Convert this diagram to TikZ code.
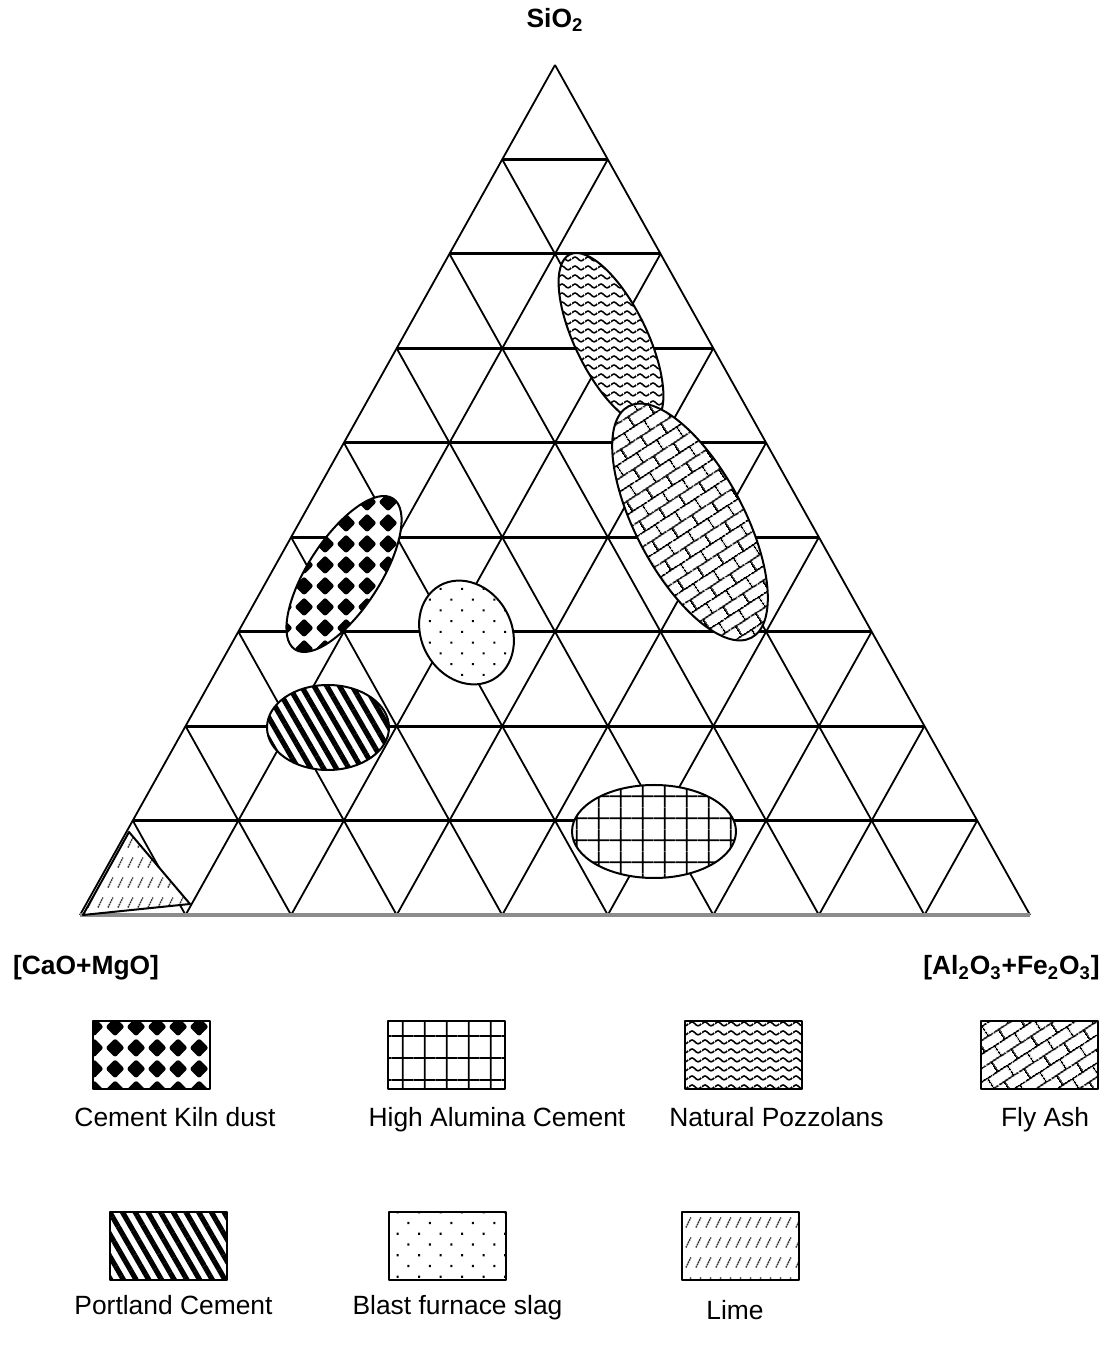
\documentclass[tikz,border=0pt]{standalone}
\usepackage{fontspec}
\setmainfont{Liberation Sans}
\usetikzlibrary{patterns, patterns.meta, positioning}

\tikzdeclarepattern{
  name=kilndiamonds,
  type=uncolored,
  bottom left={(0pt,0pt)},
  top right={(10.5pt,10.5pt)},
  tile size={(10.5pt,10.5pt)},
  code={
    \fill[rounded corners=1.2pt] (5.25pt,0.3pt) -- (10.2pt,5.25pt) -- (5.25pt,10.2pt) -- (0.3pt,5.25pt) -- cycle;
  }
}
\tikzdeclarepattern{
  name=pozzwaves,
  type=uncolored,
  bottom left={(0pt,0pt)},
  top right={(6.5pt,4.5pt)},
  tile size={(6.5pt,4.5pt)},
  code={
    \draw[line width=0.85pt] (0pt,2.25pt) sin (1.625pt,3.3pt) cos (3.25pt,2.25pt) sin (4.875pt,1.2pt) cos (6.5pt,2.25pt);
  }
}
\tikzdeclarepattern{
  name=flybricks,
  type=uncolored,
  bottom left={(0pt,0pt)},
  top right={(12pt,12pt)},
  tile size={(12pt,12pt)},
  tile transformation={rotate=33},
  code={
    \draw[line width=0.9pt] (0pt,3pt) -- (12pt,3pt) (0pt,9pt) -- (12pt,9pt)
      (3pt,3pt) -- (3pt,9pt) (9pt,9pt) -- (9pt,12pt) (9pt,0pt) -- (9pt,3pt);
  }
}
\tikzdeclarepattern{
  name=aluminagrid,
  type=uncolored,
  bottom left={(0pt,0pt)},
  top right={(10.9pt,10.9pt)},
  tile size={(10.9pt,10.9pt)},
  code={
    \draw[line width=0.9pt] (0pt,5.45pt) -- (10.9pt,5.45pt) (5.45pt,0pt) -- (5.45pt,10.9pt);
  }
}
\tikzdeclarepattern{
  name=limeslashes,
  type=uncolored,
  bottom left={(0pt,0pt)},
  top right={(4.75pt,10pt)},
  tile size={(4.75pt,10pt)},
  code={
    \draw[line width=0.75pt, dash pattern=on 0.9pt off 0.4pt] (1pt,2.3pt) -- (3.6pt,7.5pt);
  }
}

\begin{document}
\begin{tikzpicture}[x=0.5pt, y=0.5pt, line join=round,
    hline/.style={line width=1.4pt},
    sline/.style={line width=0.9pt},
    blob/.style={draw, line width=1pt, preaction={fill=white}},
    legbox/.style={draw, line width=1pt, minimum width=58.5pt, minimum height=34pt, inner sep=0pt},
    lbl/.style={font=\fontsize{13.2}{16}\selectfont, anchor=base},
    ttl/.style={font=\fontsize{13.2}{16}\selectfont\bfseries}]
    \useasboundingbox (-80,-437) rectangle (1023,915);

    \foreach \k in {1,...,8}
        \draw[hline] ({\k*52.778},{\k*94.444}) -- ({950-\k*52.778},{\k*94.444});
    \foreach \i in {0,...,8}
        \draw[sline] ({\i*105.556},0) -- ({\i*105.556+(9-\i)*52.778},{(9-\i)*94.444});
    \foreach \i in {1,...,9}
        \draw[sline] ({\i*105.556},0) -- ({\i*52.778},{\i*94.444});
    \draw[line width=2pt, black!45] (0,0) -- (950,0);

    \draw[blob, pattern=pozzwaves, rotate around={-64:(531,576)}] (531,576) ellipse [x radius=94, y radius=36];
    \draw[blob, pattern=flybricks, rotate around={-62:(610,393)}] (610,393) ellipse [x radius=131, y radius=54];
    \draw[blob, pattern=kilndiamonds, rotate around={57:(264,341)}] (264,341) ellipse [x radius=90, y radius=36];
    \draw[blob, pattern={Dots[angle=45, distance=7.6pt, radius=0.75pt]}, rotate around={-60:(386.5,282.5)}] (386.5,282.5) ellipse [x radius=54, y radius=45];
    \draw[blob, pattern={Lines[angle=-60, distance=5.5pt, line width=2.6pt]}] (248,187.5) ellipse [x radius=61, y radius=42.5];
    \draw[blob, pattern=aluminagrid] (574,83.5) ellipse [x radius=82, y radius=46.5];
    \draw[blob, pattern=limeslashes, pattern color=black!80] (49,83) -- (3,0) -- (110,11) -- cycle;

    \node[ttl] (sio) at (475,895) {SiO\textsubscript{2}};
    \node[ttl] (cao) at (6,-53) {[CaO+MgO]};
    \node[ttl] (alfe) at (931.5,-53) {[Al\textsubscript{2}O\textsubscript{3}+Fe\textsubscript{2}O\textsubscript{3}]};

    \node[legbox, pattern=kilndiamonds] (kilnbox) at (71.5,-140) {};
    \node[legbox, pattern=aluminagrid] (aluminabox) at (366.5,-140) {};
    \node[legbox, pattern=pozzwaves] (pozzbox) at (663.5,-140) {};
    \node[legbox, pattern=flybricks] (flybox) at (959.5,-140) {};
    \node[legbox, pattern={Lines[angle=-60, distance=5.5pt, line width=2.6pt]}] (portlandbox) at (88.5,-331) {};
    \node[legbox, pattern={Dots[angle=45, distance=7.6pt, radius=0.75pt]}] (slagbox) at (367.5,-331) {};
    \node[legbox, pattern=limeslashes, pattern color=black!80] (limebox) at (660,-331) {};

    \node[lbl] (kilnlbl) at (95,-211) {Cement Kiln dust};
    \node[lbl] (aluminalbl) at (417,-211) {High Alumina Cement};
    \node[lbl] (pozzlbl) at (696.5,-211) {Natural Pozzolans};
    \node[lbl] (flylbl) at (965,-211) {Fly Ash};
    \node[lbl] (portlandlbl) at (93.5,-399) {Portland Cement};
    \node[lbl] (slaglbl) at (377.5,-399) {Blast furnace slag};
    \node[lbl] (limelbl) at (655,-404) {Lime};
\end{tikzpicture}
\end{document}
